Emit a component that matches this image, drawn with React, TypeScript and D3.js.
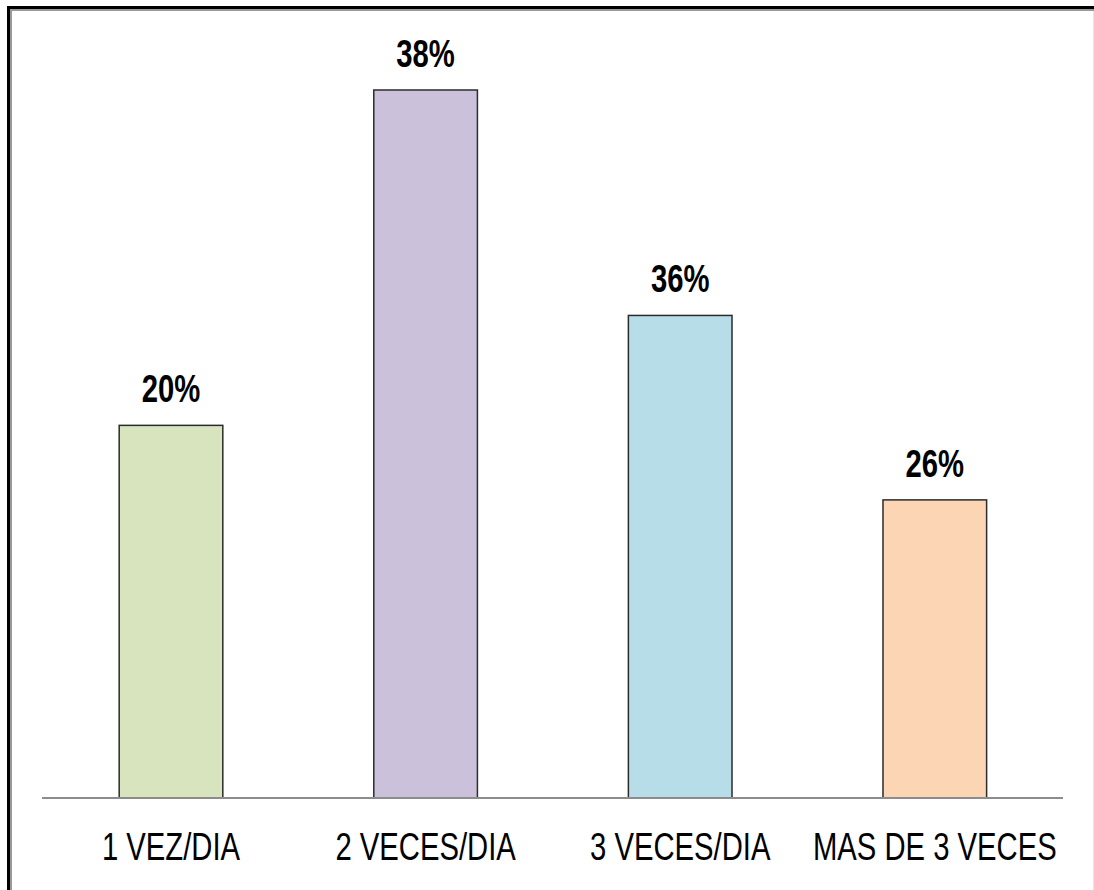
import React from "react";
import * as d3 from "d3";

const categories = ["1 VEZ/DIA", "2 VECES/DIA", "3 VECES/DIA", "MAS DE 3 VECES"];
// bar heights as drawn in the picture
const barValues = [20, 38, 25.9, 16];
// value labels as printed in the picture
const valueLabels = ["20%", "38%", "36%", "26%"];
const colors = ["#d7e4bd", "#ccc1da", "#b7dde8", "#fcd5b5"];

const W = 1094;
const H = 890;

export default function App() {
  const x = d3.scaleBand<string>().domain(categories).range([43.7, 1062.1]).paddingInner(0.593).paddingOuter(0.2965);
  const y = d3.scaleLinear().domain([0, 38]).range([798, 90]);
  const font = "'Liberation Sans', Arial, sans-serif";
  const sx = 0.75;
  return (
    <div style={{ position: "absolute", left: 0, top: 0 }}>
      <svg width={W} height={H} style={{ display: "block" }}>
        <rect x={0} y={0} width={W} height={H} fill="#fff" />
        {/* frame */}
        <line x1={8.5} y1={7.5} x2={W} y2={7.5} stroke="#000" strokeWidth={3} />
        <line x1={11} y1={10} x2={W} y2={10} stroke="#999" strokeWidth={2} />
        <line x1={8.5} y1={6} x2={8.5} y2={H} stroke="#000" strokeWidth={3} />
        <line x1={11} y1={9} x2={11} y2={H} stroke="#999" strokeWidth={2} />
        <line x1={1093.5} y1={11} x2={1093.5} y2={H} stroke="#e6e6e6" strokeWidth={1} />
        {categories.map((c, i) => {
          const bx = x(c)!;
          const bw = x.bandwidth();
          const top = y(barValues[i]);
          const cx = bx + bw / 2;
          return (
            <g key={c}>
              <rect x={bx} y={top} width={bw} height={y(0) - top} fill={colors[i]} stroke="#2b2b2b" strokeWidth={1.5} />
              <g transform={`translate(${cx},${top - 23}) scale(${sx},1)`}>
                <text x={0} y={0} textAnchor="middle" fontFamily={font} fontWeight="bold" fontSize={39} fill="#000">
                  {valueLabels[i]}
                </text>
              </g>
              <g transform={`translate(${cx},860) scale(${sx},1)`}>
                <text x={0} y={0} textAnchor="middle" fontFamily={font} fontSize={39} fill="#000">
                  {c}
                </text>
              </g>
            </g>
          );
        })}
        <line x1={42} x2={1063} y1={798} y2={798} stroke="#8c8c8c" strokeWidth={2} />
      </svg>
    </div>
  );
}
